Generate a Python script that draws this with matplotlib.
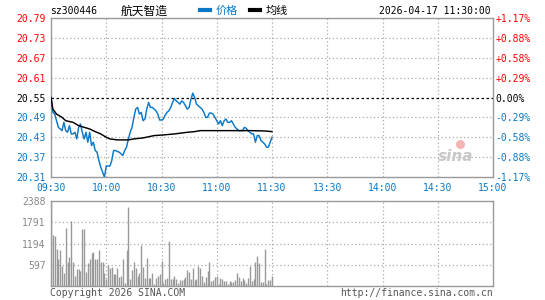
import matplotlib
matplotlib.use("Agg")
import matplotlib.pyplot as plt
import numpy as np

plt.rcParams['font.family'] = ['DejaVu Sans Mono', 'Noto Sans CJK SC']

# prices, one per minute from 09:30 to 11:30
price = [20.550, 20.505, 20.500, 20.480, 20.460, 20.455, 20.450, 20.475, 20.450, 20.445,
         20.465, 20.440, 20.440, 20.445, 20.425, 20.460, 20.470, 20.445, 20.425, 20.445,
         20.415, 20.445, 20.405, 20.415, 20.390, 20.385, 20.360, 20.340, 20.325, 20.310,
         20.343, 20.343, 20.343, 20.360, 20.390, 20.390, 20.387, 20.385, 20.380, 20.375,
         20.390, 20.400, 20.425, 20.445, 20.460, 20.490, 20.515, 20.520, 20.500, 20.505,
         20.480, 20.485, 20.515, 20.535, 20.520, 20.520, 20.515, 20.510, 20.500, 20.482,
         20.482, 20.485, 20.497, 20.505, 20.510, 20.520, 20.535, 20.547, 20.540, 20.535,
         20.530, 20.540, 20.535, 20.525, 20.515, 20.520, 20.545, 20.563, 20.550, 20.530,
         20.525, 20.520, 20.515, 20.505, 20.490, 20.490, 20.503, 20.503, 20.500, 20.490,
         20.480, 20.470, 20.480, 20.465, 20.480, 20.485, 20.475, 20.475, 20.480, 20.470,
         20.460, 20.455, 20.450, 20.450, 20.450, 20.460, 20.457, 20.450, 20.445, 20.440,
         20.440, 20.415, 20.435, 20.435, 20.420, 20.415, 20.410, 20.400, 20.400, 20.415,
         20.430]

avg_min = [0, 1, 3, 6, 8, 12, 15, 18, 21, 24, 27, 30, 32, 36, 42, 45, 50, 56, 61, 67,
           74, 78, 81, 100, 108, 116, 120]
avg_val = [20.550, 20.515, 20.500, 20.490, 20.480, 20.475, 20.465, 20.460, 20.455, 20.447,
           20.440, 20.430, 20.425, 20.422, 20.422, 20.425, 20.428, 20.435, 20.437, 20.440,
           20.445, 20.447, 20.450, 20.450, 20.450, 20.449, 20.447]

volume = [2388, 1432, 1404, 1050, 745, 1022, 573, 363, 1624, 688,
          812, 1834, 688, 287, 478, 478, 430, 1604, 1604, 401,
          650, 764, 926, 955, 764, 764, 1003, 688, 669, 363,
          191, 602, 506, 525, 334, 334, 506, 258, 287, 764,
          96, 1022, 2225, 191, 458, 669, 506, 287, 353, 1146,
          544, 220, 793, 220, 220, 353, 48, 220, 287, 334,
          716, 96, 191, 220, 1260, 210, 210, 287, 210, 96,
          162, 162, 191, 258, 458, 401, 191, 497, 162, 210,
          573, 506, 287, 124, 258, 430, 688, 143, 162, 258,
          287, 48, 220, 191, 143, 143, 67, 143, 124, 124,
          162, 353, 258, 143, 220, 162, 96, 220, 573, 143,
          191, 678, 831, 640, 124, 124, 1050, 48, 162, 162,
          287]

prev_close = 20.55
price_ticks = [20.79, 20.73, 20.67, 20.61, 20.55, 20.49, 20.43, 20.37, 20.31]
vol_ticks = [597, 1194, 1791, 2388]
time_ticks = [0, 30, 60, 90, 120, 150, 180, 210, 240]
time_labels = ["09:30", "10:00", "10:30", "11:00", "11:30", "13:30", "14:00", "14:30", "15:00"]

RED = "#ff0000"
BLUE = "#0a78c8"
GRAY = "#999999"
GRID = "#aaaaaa"

W, H = 545, 300
fig = plt.figure(figsize=(W / 100, H / 100), dpi=100)


def box(l, t, r, b):
    return [l / W, 1 - b / H, (r - l) / W, (b - t) / H]


def tick_color(p):
    if p > prev_close + 1e-9:
        return RED
    if p < prev_close - 1e-9:
        return BLUE
    return "black"


# price panel
ax = fig.add_axes(box(51, 18, 493, 177))
ax.set_xlim(0, 240)
ax.set_ylim(20.31, 20.79)
for s in ax.spines.values():
    s.set_color(GRAY)
    s.set_linewidth(1)
for t in time_ticks[1:-1]:
    ax.axvline(t, color=GRID, lw=0.9, ls=(0, (1, 2)), zorder=1)
for p in price_ticks[1:-1]:
    if abs(p - prev_close) < 1e-9:
        ax.axhline(p, color="black", lw=0.9, ls=(0, (2, 2)), zorder=1)
    else:
        ax.axhline(p, color=GRID, lw=0.9, ls=(0, (1, 2)), zorder=1)

ax.plot(np.arange(len(price)), price, color=BLUE, lw=1.05, zorder=3)
ax.plot(avg_min, avg_val, color="black", lw=1.05, zorder=3)

ax.set_yticks(price_ticks)
ax.set_yticklabels([f"{p:.2f}" for p in price_ticks])
for lab, p in zip(ax.get_yticklabels(), price_ticks):
    lab.set_color(tick_color(p))
ax.set_xticks(time_ticks)
ax.set_xticklabels(time_labels, color=BLUE)
ax.tick_params(length=0, labelsize=7, pad=4)

ax2 = ax.twinx()
ax2.set_ylim(20.31, 20.79)
ax2.set_yticks(price_ticks)
pct = [(p - prev_close) / prev_close * 100 for p in price_ticks]
ax2.set_yticklabels([f"{v:+.2f}%" if abs(v) > 1e-9 else "0.00%" for v in pct])
for lab, p in zip(ax2.get_yticklabels(), price_ticks):
    lab.set_color(tick_color(p))
ax2.tick_params(length=0, labelsize=7, pad=2)
for s in ax2.spines.values():
    s.set_visible(False)

# sina watermark
ax.text(0.955, 0.13, "sina", transform=ax.transAxes, ha="right", va="center",
        fontsize=11, fontstyle="italic", fontweight="bold", color="#c8c8c8",
        family="DejaVu Sans", zorder=2)
ax.scatter([0.925], [0.21], transform=ax.transAxes, s=30, color="#f5b5b5", zorder=2)

# volume panel
axv = fig.add_axes(box(51, 201, 493, 286))
axv.set_xlim(0, 240)
axv.set_ylim(0, 2388)
for s in axv.spines.values():
    s.set_color(GRAY)
    s.set_linewidth(1)
for t in time_ticks[1:-1]:
    axv.axvline(t, color=GRID, lw=0.9, ls=(0, (1, 2)), zorder=1)
for v in vol_ticks[:-1]:
    axv.axhline(v, color=GRID, lw=0.9, ls=(0, (1, 2)), zorder=1)
axv.vlines(np.arange(len(volume)), 0, volume, color=GRAY, lw=1, zorder=2)
axv.set_yticks(vol_ticks)
axv.set_yticklabels([str(v) for v in vol_ticks], color="#888888")
axv.set_xticks([])
axv.tick_params(length=0, labelsize=7, pad=4)

# header and footer
fig.text(50 / W, 1 - 11 / H, "sz300446", fontsize=7, va="center", ha="left")
fig.text(144 / W, 1 - 11 / H, "航天智造", fontsize=8.5, va="center", ha="center",
         family=["Noto Sans CJK SC"])
fig.add_artist(plt.Line2D([200 / W, 210 / W], [1 - 10 / H] * 2, color=BLUE, lw=3))
fig.text(216 / W, 1 - 11 / H, "价格", fontsize=8, va="center", ha="left", color=BLUE,
         family=["Noto Sans CJK SC"])
fig.add_artist(plt.Line2D([250 / W, 260 / W], [1 - 10 / H] * 2, color="black", lw=3))
fig.text(266 / W, 1 - 11 / H, "均线", fontsize=8, va="center", ha="left",
         family=["Noto Sans CJK SC"])
fig.text(491 / W, 1 - 11 / H, "2026-04-17 11:30:00", fontsize=7, va="center", ha="right")
fig.text(50 / W, 1 - 293 / H, "Copyright 2026 SINA.COM", fontsize=7, va="center",
         ha="left", color="#555555")
fig.text(493 / W, 1 - 293 / H, "http://finance.sina.com.cn", fontsize=7, va="center",
         ha="right", color="#555555")

fig.savefig("out.png", dpi=100)
